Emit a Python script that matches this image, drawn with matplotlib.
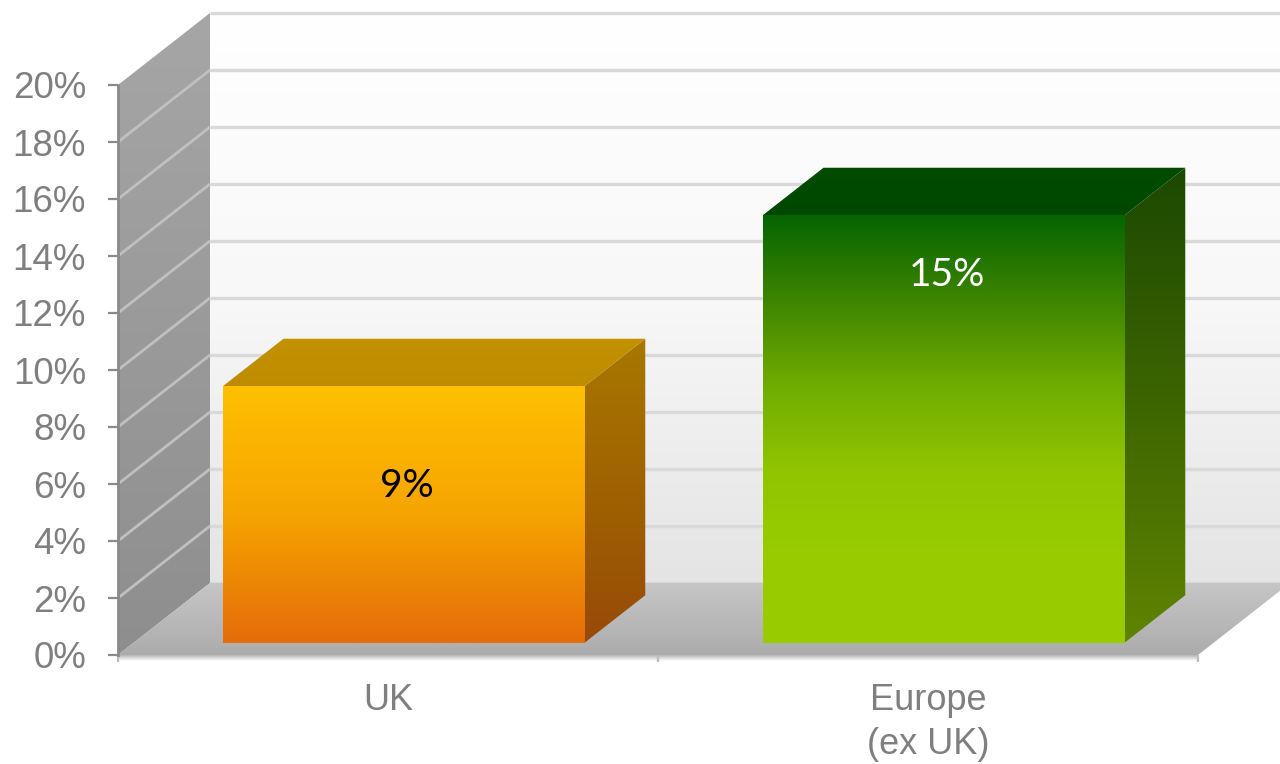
import numpy as np
import matplotlib
matplotlib.use("Agg")
import matplotlib.pyplot as plt
from matplotlib.patches import Polygon
from matplotlib.colors import LinearSegmentedColormap

# ---- data ----
categories = ["UK", "Europe\n(ex UK)"]
values = [9, 15]
value_labels = ["9%", "15%"]
y_ticks = [0, 2, 4, 6, 8, 10, 12, 14, 16, 18, 20]
y_tick_labels = [f"{t}%" for t in y_ticks]

# ---- style ----
front_stops = [["#ffc000", "#f6a400", "#e46c0a"],
               ["#056500", "#3f8500", "#70ad00", "#90c500", "#99cc00", "#99cc00"]]
top_stops = [["#c29200", "#bf8c00"], ["#004c00", "#004800"]]
side_stops = [["#a87800", "#9f6200", "#984a08"],
              ["#1c4800", "#3d6600", "#608400"]]
label_colors = ["black", "white"]
label_frac = [0.61, 0.86]
text_gray = "#7f7f7f"
axis_gray = "#8a8a8a"

W, H, DPI = 1280, 764, 100
# plot-area (front plane) in pixels, measured from the top-left corner
PL, PR, PB, PT = 118, 1198, 655, 85
YMAX = 20
sx = (PR - PL) / 2.0          # pixels per category
sy = (PB - PT) / YMAX         # pixels per percent
DX, DY = 92 / sx, 72 / sy     # depth vector in data units
BAR_W, D0, D1 = 0.67, 0.17, 0.83

fig = plt.figure(figsize=(W / DPI, H / DPI), dpi=DPI)
fig.patch.set_facecolor("white")

# scene axes covering the whole figure, sharing the front plane's data scale
ax_bg = fig.add_axes([0, 0, 1, 1], zorder=1)
ax_bg.set_axis_off()


def gradient_fill(ax, verts, stops, zorder):
    poly = Polygon(verts, closed=True, transform=ax.transData,
                   facecolor="none", edgecolor="none")
    ax.add_patch(poly)
    xs = [v[0] for v in verts]
    ys = [v[1] for v in verts]
    cmap = LinearSegmentedColormap.from_list("g", stops)
    grad = np.linspace(0, 1, 256).reshape(-1, 1)
    im = ax.imshow(grad, cmap=cmap, vmin=0, vmax=1, origin="upper",
                   extent=(min(xs), max(xs), min(ys), max(ys)),
                   aspect="auto", interpolation="bilinear", zorder=zorder)
    im.set_clip_path(poly)
    return im


xl = -0.5
xr_far = 1.5 + DX + 0.3

# back wall
gradient_fill(ax_bg, [(xl + DX, DY), (xr_far, DY), (xr_far, YMAX + DY),
                      (xl + DX, YMAX + DY)],
              ["#ffffff", "#f8f8f8", "#e4e4e4"], 1)
for t in y_ticks:
    ax_bg.plot([xl + DX, xr_far], [t + DY, t + DY], color="#d9d9d9",
               lw=2.4, zorder=2, solid_capstyle="butt")

# side wall
gradient_fill(ax_bg, [(xl, 0), (xl + DX, DY), (xl + DX, YMAX + DY), (xl, YMAX)],
              ["#a6a6a6", "#9a9a9a", "#8e8e8e"], 3)
for t in y_ticks[1:-1]:
    ax_bg.plot([xl, xl + DX], [t, t + DY], color="#c0c0c0", lw=2.0,
               zorder=4, solid_capstyle="butt")

# floor
gradient_fill(ax_bg, [(xl, 0), (1.5, 0), (1.5 + DX, DY), (xl + DX, DY)],
              ["#c6c6c6", "#b9b9b9", "#acacac"], 5)
gradient_fill(ax_bg, [(xl, 0), (1.5, 0), (1.5, -0.2), (xl, -0.2)],
              ["#b3b3b3", "#dadada", "#ffffff"], 5)

# 3D bars
for i, v in enumerate(values):
    x0 = i - BAR_W / 2 + D0 * DX
    x1 = i + BAR_W / 2 + D0 * DX
    yb = D0 * DY
    yt = yb + v
    ddx, ddy = (D1 - D0) * DX, (D1 - D0) * DY
    z = 10 + 3 * i
    gradient_fill(ax_bg, [(x1, yb), (x1 + ddx, yb + ddy), (x1 + ddx, yt + ddy),
                          (x1, yt)], side_stops[i], z)
    gradient_fill(ax_bg, [(x0, yt), (x1, yt), (x1 + ddx, yt + ddy),
                          (x0 + ddx, yt + ddy)], top_stops[i], z + 1)
    gradient_fill(ax_bg, [(x0, yb), (x1, yb), (x1, yt), (x0, yt)],
                  front_stops[i], z + 2)
    ax_bg.text((x0 + x1) / 2 + 0.006, yb + v * label_frac[i], value_labels[i],
               ha="center", va="center", fontsize=28, family="Lato",
               color=label_colors[i], zorder=30)

ax_bg.set_xlim(-0.5 - PL / sx, 1.5 + (W - PR) / sx)
ax_bg.set_ylim(0 - (H - PB) / sy, YMAX + PT / sy)

# front-plane axes carrying the ticks and labels
ax = fig.add_axes([PL / W, (H - PB) / H, (PR - PL) / W, (PB - PT) / H],
                  zorder=2)
ax.patch.set_alpha(0)
ax.set_xlim(-0.5, 1.5)
ax.set_ylim(0, YMAX)
for s in ["top", "right", "bottom"]:
    ax.spines[s].set_visible(False)
ax.spines["left"].set_color(axis_gray)
ax.spines["left"].set_linewidth(2.0)

ax.set_yticks(y_ticks)
ax.set_yticklabels(y_tick_labels, family="Liberation Sans", fontsize=26.5,
                   color=text_gray)
ax.tick_params(axis="y", direction="out", length=7, width=1.6,
               color=axis_gray, pad=16)

ax.set_xticks([0, 1])
ax.set_xticklabels(categories, family="Liberation Sans", fontsize=26,
                   color=text_gray)
ax.set_xticks([-0.5, 0.5, 1.5], minor=True)
ax.tick_params(axis="x", which="major", length=0, pad=20)
ax.tick_params(axis="x", which="minor", length=5, width=1.6, color="#bdbdbd")
for lbl in ax.get_xticklabels():
    lbl.set_linespacing(1.35)

fig.savefig("out.png", dpi=DPI)
